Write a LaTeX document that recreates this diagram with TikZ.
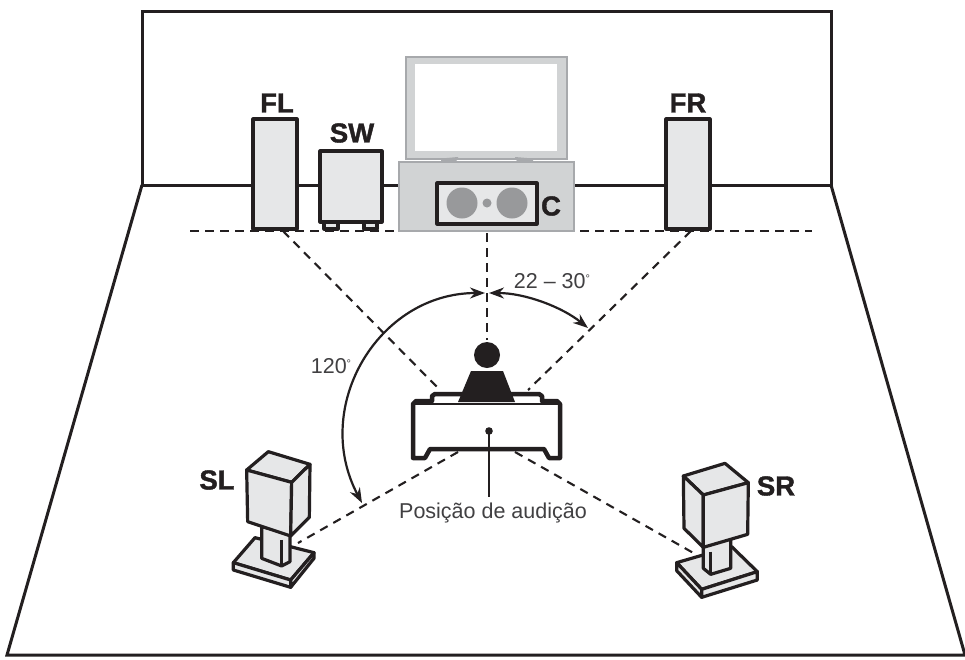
\documentclass[tikz,border=0pt]{standalone}
\usepackage{fontspec}
\setmainfont{Liberation Sans}
\newfontface\tagface[FakeBold=1.4]{Liberation Sans Bold}
\usetikzlibrary{arrows.meta}
\definecolor{ink}{HTML}{231F20}
\definecolor{spk}{HTML}{E6E7E8}
\definecolor{cabfill}{HTML}{D1D3D4}
\definecolor{cabline}{HTML}{A7A9AC}
\definecolor{cone}{HTML}{98999B}
\definecolor{txt}{HTML}{414042}
\tikzset{
  room/.style={draw=ink,line width=3pt,line join=miter},
  speaker/.style={draw=ink,fill=spk,line width=3.2pt,line join=round},
  guide/.style={draw=ink,line width=2.1pt,dash pattern=on 8.5pt off 6.5pt},
  sweep/.style={draw=ink,line width=2.2pt,{Stealth[length=15pt,width=11pt]}-{Stealth[length=15pt,width=11pt]}},
  tag/.style={inner sep=0pt,text=ink,font=\fontsize{27.5}{27.5}\tagface},
  note/.style={inner sep=0pt,text=txt,font=\fontsize{21.5}{22}\selectfont},
  graybox/.style={draw=cabline,fill=cabfill,line width=2.5pt}
}
\begin{document}
\begin{tikzpicture}[x=1pt,y=-1pt]
\useasboundingbox (0,0) rectangle (965,659);
\fill[white] (0,0) rectangle (965,659);
% room
\coordinate (wTL) at (142,11); \coordinate (wTR) at (831,11);
\coordinate (wBL) at (142,185); \coordinate (wBR) at (831,185);
\coordinate (fBL) at (7,655); \coordinate (fBR) at (965,655);
\draw[room] (wBL) -- (wTL) -- (wTR) -- (wBR) -- cycle;
\draw[room] (wBL) -- (fBL) -- (fBR) -- (wBR);
% guides
\coordinate (hL) at (190,231); \coordinate (hR) at (812,231);
\coordinate (aFL) at (283,231); \coordinate (aC) at (487,233); \coordinate (aFR) at (691,231);
\coordinate (bFL) at (438,388); \coordinate (bC) at (487,340); \coordinate (bFR) at (528,390);
\coordinate (aSL) at (458,452); \coordinate (bSL) at (298,543);
\coordinate (aSR) at (515,452); \coordinate (bSR) at (697,555);
\draw[guide] (hL) -- (hR);
\draw[guide] (aFL) -- (bFL);
\draw[guide] (aC) -- (bC);
\draw[guide] (aFR) -- (bFR);
\draw[guide] (aSL) -- (bSL);
\draw[guide] (aSR) -- (bSR);
% TV and cabinet
\draw[graybox] (406,57) rectangle (567,159);
\fill[white] (415,64) rectangle (557,151);
\draw[graybox] (399,162) rectangle (574,231);
\fill[cabline] (441,158.5) -- (458,157) -- (458,159) -- (455,162) -- (441,162) -- cycle;
\fill[cabline] (515,157) -- (533,158.5) -- (533,162) -- (518,162) -- (515,159) -- cycle;
\draw[speaker] (437,183) rectangle (537,224);
\fill[cone] (462,203) circle[radius=15.5];
\fill[cone] (512,203) circle[radius=15.5];
\fill[cone] (487,203) circle[radius=4.5];
% FL FR SW
\draw[speaker] (253,119) rectangle (297,229);
\draw[speaker] (666,119) rectangle (710,229);
\draw[speaker] (324,222) rectangle (338,229);
\draw[speaker] (364,222) rectangle (377,229);
\draw[speaker] (320,151) rectangle (382,222);
% sweeps
\coordinate (topL) at (485,293);
\coordinate (topR) at (489,293);
\coordinate (tipL) at (362,503);
\coordinate (tipR) at (588,328);
\draw[sweep] (topL) .. controls (378,293) and (311,407) .. (tipL);
\draw[sweep] (topR) .. controls (525,293) and (562,307) .. (tipR);
% seat
\fill[ink] (487,355) circle[radius=13];
\draw[ink,line width=4.5pt,line join=round,fill=white]
  (413,458) -- (413,404) -- (416,401) -- (432,401) -- (432,396) -- (435,394) -- (539,394) -- (542,396) -- (542,401) -- (557,401) -- (560,404) -- (560,458) -- (549,458) -- (544,449) -- (430,449) -- (425,458) -- cycle;
\fill[ink] (471,371) -- (503,371) -- (515,402) -- (458,402) -- cycle;
\draw[ink,line width=1.5pt] (415,404) -- (558,404);
% pointer
\coordinate (dot) at (489,431); \coordinate (ptr) at (489,497);
\fill[ink] (dot) circle[radius=3.8];
\draw[ink,line width=1.8pt] (dot) -- (ptr);
% SL
\begin{scope}[shift={(200,430)},x=0.3333pt,y=-0.3333pt]
\draw[speaker] (165,323) -- (100,398) -- (272,450) -- (342,368) -- cycle;
\draw[speaker] (100,398) -- (100,420) -- (272,472) -- (272,450) -- cycle;
\draw[speaker] (272,450) -- (272,472) -- (342,385) -- (342,368) -- cycle;
\draw[speaker] (185,290) -- (185,385) -- (245,408) -- (270,395) -- (270,310) -- cycle;
\draw[ink,line width=2.6pt] (245,330) -- (245,408);
\draw[speaker] (140,120) -- (205,65) -- (330,103) -- (275,157) -- cycle;
\draw[speaker] (140,120) -- (275,157) -- (272,318) -- (143,275) -- cycle;
\draw[speaker] (275,157) -- (330,103) -- (328,262) -- (272,318) -- cycle;
\end{scope}
% SR
\begin{scope}[shift={(650,440)},x=0.3333pt,y=-0.3333pt]
\draw[speaker] (80,368) -- (155,448) -- (322,395) -- (245,320) -- cycle;
\draw[speaker] (80,368) -- (80,392) -- (155,472) -- (155,448) -- cycle;
\draw[speaker] (155,448) -- (155,472) -- (322,420) -- (322,395) -- cycle;
\draw[speaker] (160,310) -- (160,385) -- (182,403) -- (242,385) -- (242,295) -- cycle;
\draw[ink,line width=2.6pt] (182,335) -- (182,403);
\draw[speaker] (100,108) -- (225,70) -- (295,128) -- (160,165) -- cycle;
\draw[speaker] (100,108) -- (160,165) -- (160,322) -- (102,265) -- cycle;
\draw[speaker] (160,165) -- (295,128) -- (293,283) -- (160,322) -- cycle;
\end{scope}
% labels
\node[tag] (lFL) at (277,103) {FL};
\node[tag] (lSW) at (352,133) {SW};
\node[tag] (lC) at (551,206) {C};
\node[tag] (lFR) at (688,103) {FR};
\node[tag] (lSL) at (217,480) {SL};
\node[tag] (lSR) at (776,486) {SR};
\node[note] (l120) at (331,366) {120\raisebox{6pt}{\fontsize{11}{11}\selectfont°}};
\node[note] (l22) at (552,281) {22 – 30\raisebox{6pt}{\fontsize{11}{11}\selectfont°}};
\node[note] (lPos) at (493,513) {Posição de audição};
\end{tikzpicture}
\end{document}
